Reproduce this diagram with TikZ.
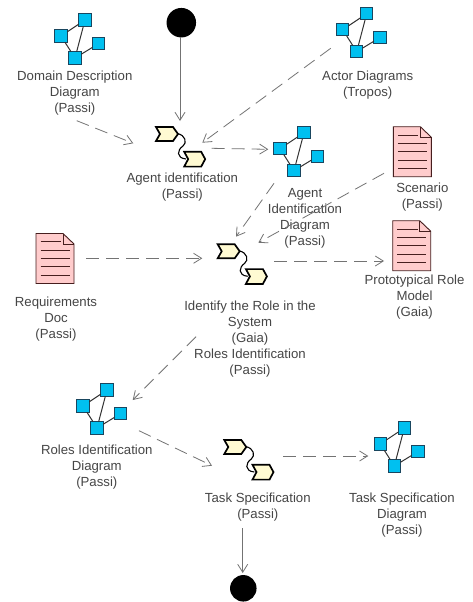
\documentclass[tikz,border=0pt]{standalone}
\usepackage{fontspec}
\setmainfont{Liberation Sans}
\usetikzlibrary{arrows.meta}
\definecolor{cyanbox}{RGB}{0,192,240}
\definecolor{cyanedge}{RGB}{25,70,95}
\definecolor{docpink}{RGB}{255,204,204}
\definecolor{docedge}{RGB}{70,30,30}
\definecolor{actfill}{RGB}{255,250,210}
\definecolor{linkgray}{RGB}{115,115,115}
\definecolor{labelgray}{RGB}{70,70,70}
\tikzset{
  x=1pt,y=-1pt,
  square/.style={draw=cyanedge,line width=1pt,fill=cyanbox,minimum size=12.5pt,inner sep=0pt,outer sep=0pt},
  iconlink/.style={draw=black!80,line width=1pt},
  chevron/.style={draw=black,line width=1.7pt,fill=actfill,line join=miter},
  label/.style={text=labelgray,align=center,inner sep=0pt,yshift=-1.6pt,font=\fontsize{13.2}{16}\selectfont},
  dot/.style={circle,fill=black,draw=none,inner sep=0pt},
  flow/.style={draw=linkgray,line width=0.8pt,-{Straight Barb[length=8pt,width=10pt,line width=0.8pt]}},
  dep/.style={flow,dash pattern=on 13pt off 7pt},
  pics/diagicon/.style={code={
    \node[square] (-l) at (0,0) {};
    \node[square] (-t) at (24,-16) {};
    \node[square] (-r) at (37.5,7.7) {};
    \node[square] (-b) at (14,22) {};
    \draw[iconlink] (-l) -- (-t);
    \draw[iconlink] (-l) -- (-b);
    \draw[iconlink] (-t) -- (-b);
    \draw[iconlink] (-b) -- (-r);
  }},
  pics/activityicon/.style={code={
    \draw[black,line width=1.1pt] (21,6.5) .. controls (30,8) and (31,16) .. (27,19)
      .. controls (21,23) and (20,31) .. (30,32);
    \draw[chevron] (0,0) -- (17,0) -- (22,7) -- (17,14) -- (0,14) -- (4,7) -- cycle;
    \begin{scope}[shift={(28.2,24.8)}]
      \draw[chevron] (0,0) -- (17,0) -- (21,7.3) -- (17,14.8) -- (0,14.8) -- (4,7.3) -- cycle;
    \end{scope}
  }},
  pics/docicon/.style={code={
    \draw[draw=docedge,line width=0.9pt,fill=docpink] (0,0) -- (27,0) -- (38,10.5) -- (38,50) -- (0,50) -- cycle;
    \draw[draw=docedge,line width=0.7pt] (27,0) -- (27,10.5) -- (38,10.5);
    \draw[draw=docedge,line width=0.8pt] (4.5,8.3) -- (25,8.3);
    \foreach \yy in {16.7,25,33.3,41.7} {\draw[draw=docedge,line width=0.8pt] (4.5,\yy) -- (33.5,\yy);}
  }},
}
\begin{document}
\begin{tikzpicture}
\useasboundingbox (0,0) rectangle (473,602);
\fill[white] (0,0) rectangle (473,602);

% start and end
\node[dot,minimum size=29.5pt] (start) at (181.3,22.7) {};
\node[dot,minimum size=26.5pt] (finish) at (243.3,588.3) {};

% diagram icons
\pic (ddicon) at (61,36) {diagicon};
\pic (acicon) at (342.7,29.7) {diagicon};
\pic (aiicon) at (280,148.7) {diagicon};
\pic (riicon) at (83,406) {diagicon};
\pic (tsicon) at (380.3,444) {diagicon};

% activities
\pic (agentact) at (156,127) {activityicon};
\pic (roleact) at (217.7,244.3) {activityicon};
\pic (taskact) at (224.3,440) {activityicon};

% documents
\pic (scdoc) at (393.3,126.7) {docicon};
\pic (rqdoc) at (36,233.5) {docicon};
\pic (prdoc) at (392.7,220.7) {docicon};

% labels
\node[label] (ddlabel) at (74.8,92) {\strut Domain Description\\Diagram\\(Passi)\strut};
\node[label] (aalabel) at (182.3,185.2) {\strut Agent identification\\(Passi)\strut};
\node[label] (aclabel) at (367.7,84) {\strut Actor Diagrams\\(Tropos)\strut};
\node[label] (ailabel) at (305,216.7) {\strut Agent\\Identification\\Diagram\\(Passi)\strut};
\node[label] (sclabel) at (422.3,195.2) {\strut Scenario\\(Passi)\strut};
\node[label] (rqlabel) at (56,317.3) {\strut Requirements\\Doc\\(Passi)\strut};
\node[label] (rolabel) at (250,338) {\strut Identify the Role in the\\System\\(Gaia)\\Roles Identification\\(Passi)\strut};
\node[label] (prlabel) at (414.5,296) {\strut Prototypical Role\\Model\\(Gaia)\strut};
\node[label] (rilabel) at (96.8,466) {\strut Roles Identification\\Diagram\\(Passi)\strut};
\node[label] (tslabel) at (257.8,505.3) {\strut Task Specification\\(Passi)\strut};
\node[label] (tdlabel) at (402,513.3) {\strut Task Specification\\Diagram\\(Passi)\strut};

% connector free ends
\coordinate (a1) at (180,37);        \coordinate (a2) at (180,121);
\coordinate (b1) at (76.7,120.7);    \coordinate (b2) at (133.3,143.3);
\coordinate (c1) at (330.7,48.3);    \coordinate (c2) at (202.3,142.7);
\coordinate (d1) at (211.7,148.3);   \coordinate (d2) at (268.3,149.3);
\coordinate (e1) at (274,183.3);     \coordinate (e2) at (236,236.7);
\coordinate (f1) at (384,173.3);     \coordinate (f2) at (258.3,242.7);
\coordinate (g1) at (86,258.3);      \coordinate (g2) at (202.3,258.3);
\coordinate (h1) at (274,261);       \coordinate (h2) at (384,261);
\coordinate (i1) at (196,336.7);     \coordinate (i2) at (132.7,400);
\coordinate (j1) at (139,430.7);     \coordinate (j2) at (212,465.7);
\coordinate (k1) at (283.3,456);     \coordinate (k2) at (368.3,456);
\coordinate (m1) at (242.7,528.3);   \coordinate (m2) at (242.7,573);

% connectors
\draw[flow] (a1) -- (a2);
\draw[dep] (b1) -- (b2);
\draw[dep] (c1) -- (c2);
\draw[dep] (d1) -- (d2);
\draw[dep] (e1) -- (e2);
\draw[dep] (f1) -- (f2);
\draw[dep] (g1) -- (g2);
\draw[dep] (h1) -- (h2);
\draw[dep] (i1) -- (i2);
\draw[dep] (j1) -- (j2);
\draw[dep] (k1) -- (k2);
\draw[flow] (m1) -- (m2);
\end{tikzpicture}
\end{document}
